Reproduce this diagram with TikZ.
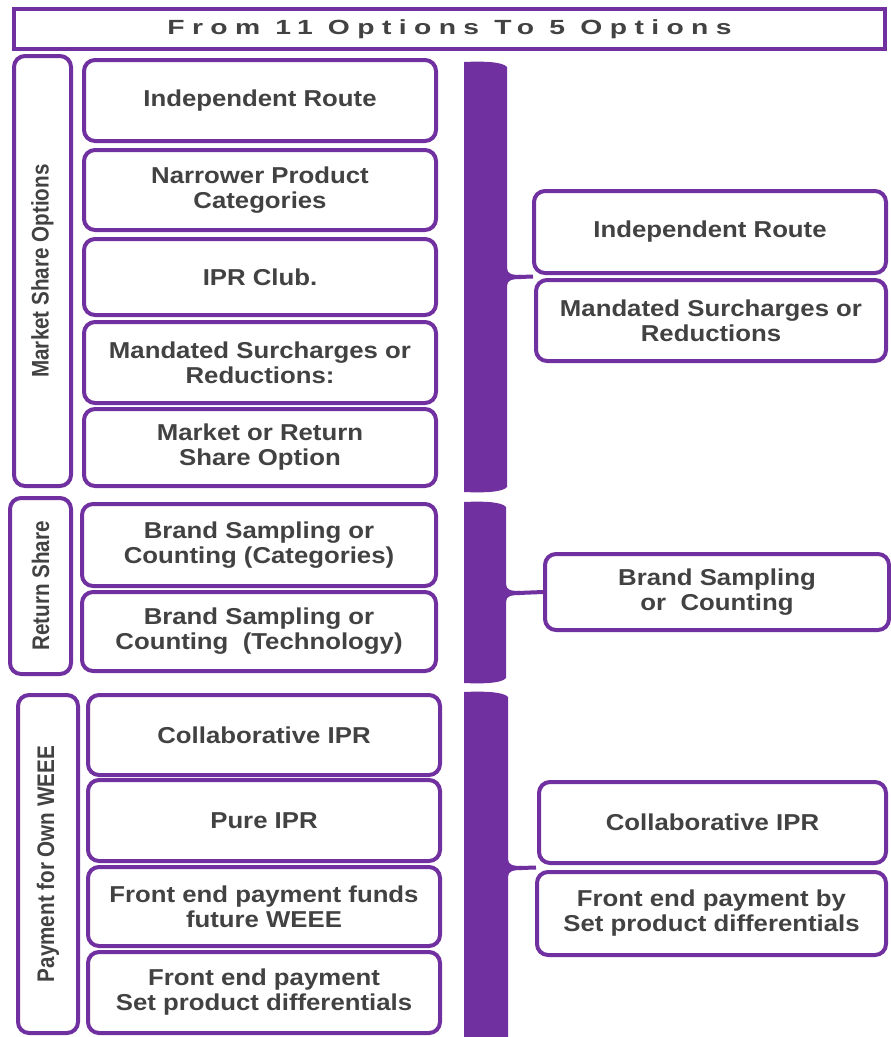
\documentclass[tikz,border=0pt]{standalone}
\usepackage{fontspec}
\usepackage{graphicx}
\setmainfont{Liberation Sans}
\newfontfamily\boxfont[FakeStretch=1.12]{Liberation Sans}
\newfontfamily\sidefont[FakeStretch=0.86]{Liberation Sans}
\newfontfamily\headfont[FakeStretch=1.38,LetterSpace=36]{Liberation Sans}
\usetikzlibrary{calc}
\definecolor{wpurple}{HTML}{7030A0}
\definecolor{txtgray}{HTML}{424242}

% purple bar with a short flared tip on its right side
\newcommand\bracebar[5]{%
  \fill[wpurple] (#1,#3) .. controls (#1+21,#3-1) and (#2-4,#3) .. (#2,#3+5)
    -- (#2,#5-9) .. controls (#2,#5-3) and (#2+5,#5-2) .. (#2+14,#5-2)
    -- (#2+14,#5+2) .. controls (#2+5,#5+2) and (#2,#5+3) .. (#2,#5+9)
    -- (#2,#4-5) .. controls (#2-4,#4) and (#1+21,#4+1) .. (#1,#4) -- cycle;}

\begin{document}
\begin{tikzpicture}[x=1pt,y=-1pt,
  optbox/.style={draw=wpurple, line width=4pt, rounded corners=11pt, fill=white,
    inner sep=0pt, align=center, text=txtgray,
    font=\boxfont\bfseries\fontsize{23}{25}\selectfont},
  sidebox/.style={draw=wpurple, line width=4pt, rounded corners=11pt, fill=white,
    inner sep=0pt, text=txtgray, font=\sidefont\bfseries\fontsize{24}{26}\selectfont},
  headbox/.style={draw=wpurple, line width=4.5pt, fill=white, inner sep=0pt,
    text=txtgray, font=\headfont\bfseries\fontsize{20.5}{22}\selectfont},
  stalk/.style={draw=wpurple, line width=4pt}]
\useasboundingbox (0,0) rectangle (891,1037);
\fill[white] (0,0) rectangle (891,1037);

% heading
\node[headbox, minimum width=871pt, minimum height=40pt] (head) at (449.5,29) {From 11 Options To 5 Options};

% group labels
\node[sidebox, minimum width=57pt, minimum height=430pt] (gmarket) at (42.5,271) {\rotatebox{90}{Market Share Options}};
\node[sidebox, minimum width=61pt, minimum height=176pt] (greturn) at (40.5,586) {\rotatebox{90}{Return Share}};
\node[sidebox, minimum width=60pt, minimum height=338pt] (gpay) at (48,864) {\rotatebox{90}{Payment for Own WEEE}};

% eleven options
\node[optbox, minimum width=352pt, minimum height=81pt] (m1) at (260,100.5) {Independent Route};
\node[optbox, minimum width=352pt, minimum height=80pt] (m2) at (260,190) {Narrower Product\\Categories};
\node[optbox, minimum width=352pt, minimum height=76pt] (m3) at (260,277) {IPR Club.};
\node[optbox, minimum width=352pt, minimum height=81pt] (m4) at (260,362.5) {Mandated Surcharges or\\Reductions:};
\node[optbox, minimum width=352pt, minimum height=77pt] (m5) at (260,447.5) {Market or Return\\Share Option};

\node[optbox, minimum width=354pt, minimum height=82pt] (r1) at (259,545) {Brand Sampling or\\Counting (Categories)};
\node[optbox, minimum width=354pt, minimum height=79pt] (r2) at (259,631.5) {Brand Sampling or\\Counting\ \ (Technology)};

\node[optbox, minimum width=352pt, minimum height=80pt] (p1) at (264,735) {Collaborative IPR};
\node[optbox, minimum width=352pt, minimum height=81pt] (p2) at (264,820.5) {Pure IPR};
\node[optbox, minimum width=352pt, minimum height=79pt] (p3) at (264,906.5) {Front end payment funds\\future WEEE};
\node[optbox, minimum width=352pt, minimum height=81pt] (p4) at (264,992.5) {Front end payment\\Set product differentials};

% five options
\node[optbox, minimum width=352pt, minimum height=82pt] (s1) at (710,232) {Independent Route};
\node[optbox, minimum width=350pt, minimum height=81pt] (s2) at (711,320.5) {Mandated Surcharges or\\Reductions};
\node[optbox, minimum width=344pt, minimum height=76pt] (s3) at (717,592) {Brand Sampling\\or\ \ Counting};
\node[optbox, minimum width=347pt, minimum height=81pt] (s4) at (712.5,822.5) {Collaborative IPR};
\node[optbox, minimum width=349pt, minimum height=83pt] (s5) at (711.5,913.5) {Front end payment by\\Set product differentials};

% grouping bars and their links
\bracebar{464}{507}{62}{492}{277}
\bracebar{464}{506}{502}{683}{593}
\bracebar{464}{508}{692}{1045}{868}
\coordinate (t1) at (519,277);
\coordinate (t2) at (518,593);
\coordinate (t3) at (520,868);
\draw[stalk] (t1) -- ($(s1.south west)!.5!(s2.north west)$);
\draw[stalk] (t2) -- (s3.west);
\draw[stalk] (t3) -- ($(s4.south west)!.5!(s5.north west)$);
\end{tikzpicture}
\end{document}
